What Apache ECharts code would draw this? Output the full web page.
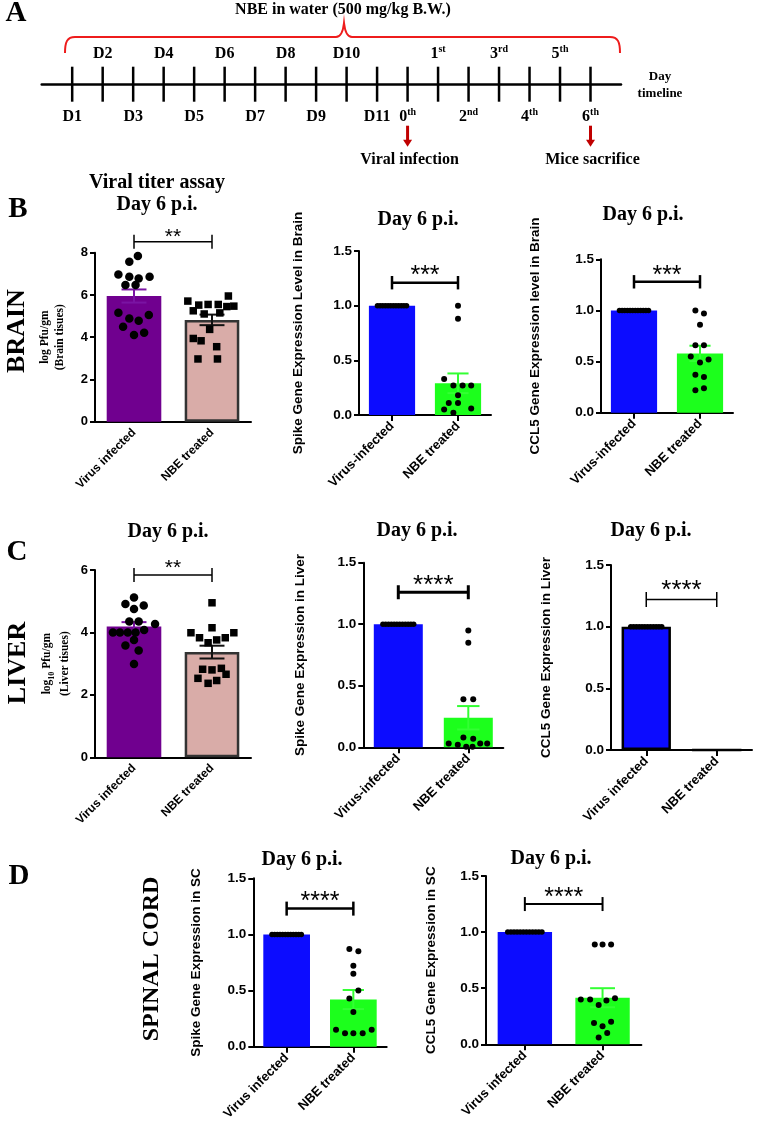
<!DOCTYPE html>
<html>
<head>
<meta charset="utf-8">
<script src="https://cdn.jsdelivr.net/npm/echarts@6/dist/echarts.min.js"></script>
<style>
  html, body { margin: 0; background: #fff; }
  #fig { width: 758px; height: 1133px; }
</style>
</head>
<body>
<div id="fig"></div>
<script>
// ---- data ----
const groupsPlain = ['Virus infected', 'NBE treated'];
const groupsHyphen = ['Virus-infected', 'NBE treated'];

const timelineDays = ['D1', 'D2', 'D3', 'D4', 'D5', 'D6', 'D7', 'D8', 'D9', 'D10', 'D11',
  '0th', '1st', '2nd', '3rd', '4th', '5th', '6th'];
const timelineAbove = [0, 1, 0, 1, 0, 1, 0, 1, 0, 1, 0, 0, 1, 0, 1, 0, 1, 0];
const timelineEvents = [[11, 'Viral infection'], [17, 'Mice sacrifice']];

// bar means and SEM per group [virus, NBE]
const brainTiterMean = [5.95, 4.82], brainTiterSem = [0.31, 0.25];
const brainSpikeMean = [1.0, 0.29], brainSpikeSem = [0, 0.09];
const brainCclMean = [1.0, 0.58], brainCclSem = [0, 0.075];
const liverTiterMean = [4.19, 3.37], liverTiterSem = [0.14, 0.205];
const liverSpikeMean = [1.0, 0.24], liverSpikeSem = [0, 0.095];
const liverCclMean = [1.0, 0.0], liverCclSem = [0, 0];
const scSpikeMean = [1.0, 0.42], scSpikeSem = [0, 0.085];
const scCclMean = [1.0, 0.415], scCclSem = [0, 0.085];

// individual animals: [horizontal jitter within the group, value]
const brainTiterVirus = [[0.05, 7.84], [-0.06, 7.57], [-0.2, 6.97], [-0.06, 6.86], [0.06, 6.78], [0.2, 6.86],
  [-0.11, 6.47], [0.02, 6.47], [-0.2, 5.16], [-0.06, 4.89], [0.06, 4.78], [0.19, 5.05], [-0.14, 4.5],
  [0, 4.1], [0.13, 4.21]];
const brainTiterNBE = [[0.21, 5.95], [-0.31, 5.71], [-0.17, 5.52], [-0.05, 5.55], [0.08, 5.55], [0.19, 5.45],
  [0.28, 5.47], [-0.24, 5.25], [-0.1, 5.1], [0.1, 5.15], [-0.03, 4.37], [-0.24, 3.94], [-0.14, 3.83],
  [0.06, 3.55], [-0.18, 2.97], [0.07, 2.97]];
const virusRow = [[-0.22, 1], [-0.18, 1], [-0.14, 1], [-0.1, 1], [-0.06, 1], [-0.02, 1], [0.02, 1],
  [0.06, 1], [0.1, 1], [0.14, 1], [0.18, 1], [0.22, 1]];
const brainSpikeNBE = [[0, 1.0], [0, 0.88], [-0.21, 0.33], [-0.07, 0.27], [0.07, 0.27], [0.2, 0.27],
  [0, 0.18], [-0.14, 0.11], [0, 0.11], [-0.21, 0.05], [-0.07, 0.02], [0.2, 0.06]];
const brainCclNBE = [[-0.07, 1.0], [0.06, 0.97], [0, 0.86], [-0.07, 0.66], [0.06, 0.66], [-0.14, 0.55],
  [0, 0.49], [0.13, 0.52], [-0.07, 0.37], [0.06, 0.35], [-0.07, 0.22], [0.06, 0.24]];
const liverTiterVirus = [[0, 5.12], [-0.11, 4.91], [0.125, 4.86], [0, 4.75], [-0.06, 4.35], [0.06, 4.35],
  [0.27, 4.27], [-0.27, 4.0], [-0.18, 4.0], [-0.08, 4.0], [0.02, 4.0], [0.13, 4.08], [0, 3.76],
  [-0.11, 3.58], [0.06, 3.42], [0, 2.99]];
const liverTiterNBE = [[0, 4.95], [0, 4.15], [-0.27, 3.99], [-0.16, 3.83], [-0.05, 3.67], [0.06, 3.76],
  [0.17, 3.83], [0.28, 3.99], [-0.12, 2.82], [0, 2.8], [0.12, 2.85], [0.18, 2.66], [-0.18, 2.53],
  [0.06, 2.46], [-0.05, 2.37]];
const liverSpikeNBE = [[0, 0.95], [0, 0.85], [-0.07, 0.39], [0.07, 0.39], [-0.07, 0.08], [0.07, 0.07],
  [-0.28, 0.03], [-0.15, 0.02], [-0.03, 0.005], [0.06, 0.005], [0.17, 0.03], [0.27, 0.03]];
const scSpikeNBE = [[-0.06, 0.87], [0.075, 0.85], [0, 0.72], [0, 0.65], [0.075, 0.5], [-0.06, 0.43],
  [0, 0.31], [-0.26, 0.15], [-0.125, 0.12], [0, 0.12], [0.14, 0.12], [0.275, 0.15]];
const scCclNBE = [[-0.1, 0.89], [0, 0.89], [0.11, 0.89], [-0.28, 0.4], [-0.16, 0.4], [-0.05, 0.35],
  [0.05, 0.39], [0.16, 0.41], [-0.11, 0.19], [0.11, 0.2], [0, 0.16], [0.06, 0.1], [-0.05, 0.06]];

// ---- styling ----
const SERIF = 'Liberation Serif';
const SANS = 'Liberation Sans';
const PURPLE = '#70008f', PINK = '#d9aca8', BLUE = '#0c0cff', GREEN = '#1cff1c';

const grids = [], xAxes = [], yAxes = [], series = [];

const titerName = { fontFamily: SERIF, fontWeight: 'bold', fontSize: 11.5, color: '#000', lineHeight: 15 };
const exprName = { fontFamily: SANS, fontWeight: 'bold', fontSize: 13.5, color: '#000', lineHeight: 14 };

function txt(text, size, extra) {
  return Object.assign({ text: text, fontFamily: SERIF, fontWeight: 'bold', fontSize: size, fill: '#000',
    align: 'center', verticalAlign: 'middle' }, extra || {});
}

function addPlot(p) {
  const g = grids.length;
  grids.push({ left: p.box[0], top: p.box[1], width: p.box[2], height: p.box[3] });
  const xc = xAxes.length;
  xAxes.push({
    type: 'category', gridIndex: g, data: p.labels,
    axisLine: { onZero: false, lineStyle: { color: '#000', width: 2 } },
    axisTick: { show: p.catTicks, alignWithLabel: true, length: 6, lineStyle: { color: '#000', width: 2 } },
    axisLabel: { rotate: 45, interval: 0, color: '#000', fontFamily: SANS, fontWeight: 'bold',
      fontSize: p.labelSize, margin: 9 }
  });
  xAxes.push({ type: 'value', gridIndex: g, min: -0.5, max: 1.5, show: false });
  const yi = yAxes.length;
  yAxes.push({
    type: 'value', gridIndex: g, min: 0, max: p.yMax, interval: p.yStep,
    axisLine: { show: true, onZero: false, lineStyle: { color: '#000', width: 2 } },
    axisTick: { show: true, length: 5, lineStyle: { color: '#000', width: 2 } },
    axisLabel: { color: '#000', fontFamily: SANS, fontWeight: 'bold', fontSize: p.tickSize, margin: 7,
      formatter: v => v.toFixed(p.decimals) },
    splitLine: { show: false },
    name: p.yName, nameLocation: 'middle', nameGap: p.nameGap, nameTextStyle: p.nameStyle
  });
  series.push({
    type: 'bar', xAxisIndex: xc, yAxisIndex: yi, barWidth: '70%', z: 2, silent: true,
    data: p.means.map((m, i) => ({
      value: m,
      itemStyle: { color: p.colors[i], borderColor: p.borders[i] || p.colors[i], borderWidth: p.borders[i] ? 2.5 : 0 }
    }))
  });
  series.push({
    type: 'custom', xAxisIndex: xc, yAxisIndex: yi, z: 3, silent: true,
    data: p.means.map((m, i) => [i, m, p.sems[i]]),
    renderItem: (params, api) => {
      const i = api.value(0), m = api.value(1), s = api.value(2);
      if (!s) return { type: 'group', children: [] };
      const hi = api.coord([i, m + s]), lo = api.coord([i, m - s]);
      const half = api.size([1, 0])[0] * 0.16;
      const st = { stroke: p.errColors[params.dataIndex], lineWidth: 2 };
      return { type: 'group', children: [
        { type: 'line', shape: { x1: hi[0], y1: hi[1], x2: lo[0], y2: lo[1] }, style: st },
        { type: 'line', shape: { x1: hi[0] - half, y1: hi[1], x2: hi[0] + half, y2: hi[1] }, style: st },
        { type: 'line', shape: { x1: lo[0] - half, y1: lo[1], x2: lo[0] + half, y2: lo[1] }, style: st }
      ] };
    }
  });
  p.dots.forEach((pts, i) => {
    if (!pts.length) return;
    series.push({
      type: 'scatter', xAxisIndex: xc + 1, yAxisIndex: yi, z: 4, silent: true,
      symbol: p.symbols[i], symbolSize: p.dotSize[i], itemStyle: { color: '#000', opacity: 1 },
      data: pts.map(d => [i + d[0], d[1]])
    });
  });
  series.push({
    type: 'custom', xAxisIndex: xc, yAxisIndex: yi, z: 5, silent: true,
    data: [[0, 1, p.sig.y]],
    renderItem: (params, api) => {
      const a = api.coord([api.value(0), api.value(2)]);
      const b = api.coord([api.value(1), api.value(2)]);
      const h = p.sig.tick, st = { stroke: '#000', lineWidth: p.sig.lw };
      return { type: 'group', children: [
        { type: 'line', shape: { x1: a[0], y1: a[1], x2: b[0], y2: b[1] }, style: st },
        { type: 'line', shape: { x1: a[0], y1: a[1] - h, x2: a[0], y2: a[1] + h }, style: st },
        { type: 'line', shape: { x1: b[0], y1: b[1] - h, x2: b[0], y2: b[1] + h }, style: st },
        { type: 'text', x: (a[0] + b[0]) / 2, y: a[1] + p.sig.off,
          style: { text: p.sig.text, fontFamily: SANS, fontSize: p.sig.size, fill: '#000',
            align: 'center', verticalAlign: 'middle' } }
      ] };
    }
  });
}

// ---- panel A timeline ----
function ordinal(s) {
  const m = s.match(/^(\d)(st|nd|rd|th)$/);
  return m ? '{n|' + m[1] + '}{s|' + m[2] + '}' : '{n|' + s + '}';
}
const tlRich = {
  n: { fontFamily: SERIF, fontWeight: 'bold', fontSize: 16, lineHeight: 18, fill: '#000' },
  s: { fontFamily: SERIF, fontWeight: 'bold', fontSize: 10, lineHeight: 10, verticalAlign: 'top', fill: '#000' }
};
(function addTimeline() {
  const g = grids.length;
  grids.push({ left: 41.7, top: 66.7, width: 579.3, height: 35 });
  const xi = xAxes.length;
  xAxes.push({ type: 'value', gridIndex: g, min: -1, max: 18,
    axisLine: { show: true, onZero: true, lineStyle: { color: '#000', width: 2.5 } },
    axisTick: { show: false }, axisLabel: { show: false }, splitLine: { show: false } });
  const yi = yAxes.length;
  yAxes.push({ type: 'value', gridIndex: g, min: -1, max: 1, show: false });
  series.push({
    type: 'custom', xAxisIndex: xi, yAxisIndex: yi, silent: true,
    data: timelineDays.map((d, i) => [i]),
    renderItem: (params, api) => {
      const i = api.value(0);
      const top = api.coord([i, 1]), bot = api.coord([i, -1]);
      const up = timelineAbove[params.dataIndex];
      return { type: 'group', children: [
        { type: 'line', shape: { x1: top[0], y1: top[1], x2: bot[0], y2: bot[1] }, style: { stroke: '#000', lineWidth: 2.5 } },
        { type: 'text', x: top[0], y: up ? top[1] - 13 : bot[1] + 15,
          style: { text: ordinal(timelineDays[params.dataIndex]), rich: tlRich, align: 'center', verticalAlign: 'middle' } }
      ] };
    }
  });
  series.push({
    type: 'custom', xAxisIndex: xi, yAxisIndex: yi, silent: true,
    data: timelineEvents.map(e => [e[0]]),
    renderItem: (params, api) => {
      const bot = api.coord([api.value(0), -1]);
      const x = bot[0], y0 = bot[1] + 24, y1 = bot[1] + 45;
      return { type: 'group', children: [
        { type: 'line', shape: { x1: x, y1: y0, x2: x, y2: y1 - 6 }, style: { stroke: '#c00000', lineWidth: 3 } },
        { type: 'polygon', shape: { points: [[x - 4.5, y1 - 7], [x + 4.5, y1 - 7], [x, y1]] }, style: { fill: '#c00000' } },
        { type: 'text', x: x + 2, y: bot[1] + 58, style: txt(timelineEvents[params.dataIndex][1], 16) }
      ] };
    }
  });
  // red brace over the treatment period
  series.push({
    type: 'custom', xAxisIndex: xi, yAxisIndex: yi, silent: true, data: [[0]],
    renderItem: () => ({
      type: 'path',
      shape: { pathData: 'M65,53 C65,42 67,37 75,37 L336,37 C341,37 343,32 344,23 C345,32 347,37 352,37 L610,37 C618,37 620,42 620,53' },
      style: { stroke: '#ee1c1c', lineWidth: 2, fill: null }
    })
  });
})();

// ---- panels B, C, D ----
addPlot({ box: [95, 252.7, 156, 169], yMax: 8, yStep: 2, decimals: 0, tickSize: 13,
  labels: groupsPlain, labelSize: 12, catTicks: false,
  means: brainTiterMean, sems: brainTiterSem, colors: [PURPLE, PINK], borders: [null, '#333'],
  errColors: ['#7a14a3', '#111'], dots: [brainTiterVirus, brainTiterNBE], symbols: ['circle', 'rect'], dotSize: [8.5, 7.5],
  sig: { y: 8.52, text: '**', lw: 1.5, tick: 7, off: -4.5, size: 21 },
  yName: 'log Pfu/gm\n(Brain tisues)', nameGap: 27, nameStyle: titerName });

addPlot({ box: [359, 251, 132, 164], yMax: 1.5, yStep: 0.5, decimals: 1, tickSize: 13.5,
  labels: groupsHyphen, labelSize: 13, catTicks: true,
  means: brainSpikeMean, sems: brainSpikeSem, colors: [BLUE, GREEN], borders: [null, null],
  errColors: [BLUE, '#33ff33'], dots: [virusRow, brainSpikeNBE], symbols: ['circle', 'circle'], dotSize: [5.5, 6],
  sig: { y: 1.21, text: '***', lw: 2.5, tick: 6.7, off: -6.5, size: 25 },
  yName: 'Spike Gene Expression Level in Brain', nameGap: 54, nameStyle: exprName });

addPlot({ box: [601, 259.3, 132, 153.4], yMax: 1.5, yStep: 0.5, decimals: 1, tickSize: 13.5,
  labels: groupsHyphen, labelSize: 13, catTicks: true,
  means: brainCclMean, sems: brainCclSem, colors: [BLUE, GREEN], borders: [null, null],
  errColors: [BLUE, '#33ff33'], dots: [virusRow, brainCclNBE], symbols: ['circle', 'circle'], dotSize: [5.5, 6],
  sig: { y: 1.28, text: '***', lw: 2.5, tick: 6.7, off: -5.5, size: 25 },
  yName: 'CCL5 Gene Expression level in Brain', nameGap: 59, nameStyle: exprName });

addPlot({ box: [95, 570, 156, 187.3], yMax: 6, yStep: 2, decimals: 0, tickSize: 13,
  labels: groupsPlain, labelSize: 12, catTicks: false,
  means: liverTiterMean, sems: liverTiterSem, colors: [PURPLE, PINK], borders: [null, '#333'],
  errColors: ['#7a14a3', '#111'], dots: [liverTiterVirus, liverTiterNBE], symbols: ['circle', 'rect'], dotSize: [8.5, 7.5],
  sig: { y: 5.84, text: '**', lw: 1.5, tick: 7, off: -6.5, size: 21 },
  yName: '{t|log}{s|10}{t| Pfu/gm}\n{t|(Liver tisues)}', nameGap: 21,
  nameStyle: { rich: {
    t: { fontFamily: SERIF, fontWeight: 'bold', fontSize: 11.5, color: '#000', lineHeight: 18 },
    s: { fontFamily: SERIF, fontWeight: 'bold', fontSize: 8, color: '#000', lineHeight: 8, verticalAlign: 'bottom' }
  } } });

addPlot({ box: [363.3, 562.7, 140, 184.6], yMax: 1.5, yStep: 0.5, decimals: 1, tickSize: 13.5,
  labels: groupsHyphen, labelSize: 13, catTicks: true,
  means: liverSpikeMean, sems: liverSpikeSem, colors: [BLUE, GREEN], borders: [null, null],
  errColors: [BLUE, '#33ff33'], dots: [virusRow, liverSpikeNBE], symbols: ['circle', 'circle'], dotSize: [5.5, 6],
  sig: { y: 1.26, text: '****', lw: 3, tick: 7, off: -6.5, size: 26 },
  yName: 'Spike Gene Expression in Liver', nameGap: 56, nameStyle: exprName });

addPlot({ box: [611, 565, 141, 185], yMax: 1.5, yStep: 0.5, decimals: 1, tickSize: 13.5,
  labels: groupsPlain, labelSize: 13, catTicks: true,
  means: liverCclMean, sems: liverCclSem, colors: [BLUE, GREEN], borders: ['#000', '#000'],
  errColors: ['#000', '#000'], dots: [virusRow, []], symbols: ['circle', 'circle'], dotSize: [5.5, 6],
  sig: { y: 1.22, text: '****', lw: 1.5, tick: 7.5, off: -9, size: 26 },
  yName: 'CCL5 Gene Expression in Liver', nameGap: 58, nameStyle: exprName });

addPlot({ box: [253.3, 878.3, 133.4, 168.4], yMax: 1.5, yStep: 0.5, decimals: 1, tickSize: 13.5,
  labels: groupsPlain, labelSize: 13, catTicks: true,
  means: scSpikeMean, sems: scSpikeSem, colors: [BLUE, GREEN], borders: [null, null],
  errColors: [BLUE, '#33ff33'], dots: [virusRow, scSpikeNBE], symbols: ['circle', 'circle'], dotSize: [5.5, 6],
  sig: { y: 1.23, text: '****', lw: 2.5, tick: 7, off: -6.5, size: 25 },
  yName: 'Spike Gene Expression in SC', nameGap: 50, nameStyle: exprName });

addPlot({ box: [486, 876, 155.4, 168.3], yMax: 1.5, yStep: 0.5, decimals: 1, tickSize: 13.5,
  labels: groupsPlain, labelSize: 13, catTicks: true,
  means: scCclMean, sems: scCclSem, colors: [BLUE, GREEN], borders: [null, null],
  errColors: [BLUE, '#33ff33'], dots: [virusRow, scCclNBE], symbols: ['circle', 'circle'], dotSize: [5.5, 6],
  sig: { y: 1.25, text: '****', lw: 2, tick: 7, off: -6, size: 25 },
  yName: 'CCL5 Gene Expression in SC', nameGap: 48, nameStyle: exprName });

// ---- free text ----
function label(text, x, y, size, rot) {
  return { type: 'text', x: x, y: y, rotation: rot || 0, silent: true, style: txt(text, size) };
}
const up = Math.PI / 2;
const graphic = [
  label('A', 16, 14, 29), label('B', 18, 210, 29), label('C', 17, 553, 29), label('D', 19, 877, 29),
  label('BRAIN', 17, 331, 26, up), label('LIVER', 18.5, 663, 26, up), label('SPINAL CORD', 152, 959, 24, up),
  label('NBE in water (500 mg/kg B.W.)', 343, 10, 16),
  label('Day', 660, 77, 13), label('timeline', 660, 94, 13),
  label('Viral titer assay', 157, 183, 20), label('Day 6 p.i.', 157, 205, 20),
  label('Day 6 p.i.', 418, 220, 20), label('Day 6 p.i.', 643, 215, 20),
  label('Day 6 p.i.', 168, 532, 20), label('Day 6 p.i.', 417, 531, 20), label('Day 6 p.i.', 651, 531, 20),
  label('Day 6 p.i.', 302, 860, 20), label('Day 6 p.i.', 551, 859, 20)
];

const chart = echarts.init(document.getElementById('fig'));
chart.setOption({
  animation: false,
  backgroundColor: '#fff',
  grid: grids,
  xAxis: xAxes,
  yAxis: yAxes,
  series: series,
  graphic: graphic
});
</script>
</body>
</html>
